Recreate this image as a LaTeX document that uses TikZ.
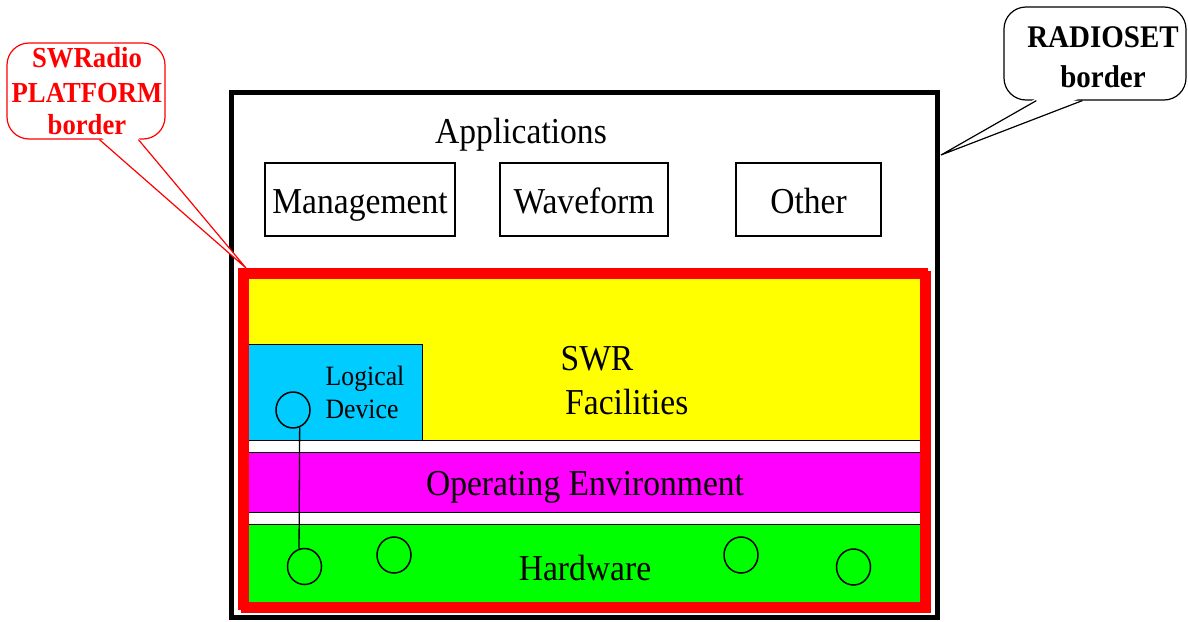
\documentclass[tikz,border=0pt]{standalone}
\usepackage{fontspec}
\setmainfont{Liberation Serif}[FakeStretch=0.92]
\usetikzlibrary{shapes.geometric,calc}
\definecolor{layyellow}{RGB}{255,255,0}
\definecolor{laymagenta}{RGB}{255,0,255}
\definecolor{laygreen}{RGB}{0,255,0}
\definecolor{laycyan}{RGB}{0,204,255}
\tikzset{
  big/.style={font=\fontsize{36.5}{42}\selectfont},
  small/.style={font=\fontsize{28}{34}\selectfont},
  lbl/.style={inner sep=0pt, anchor=base},
  appbox/.style={draw=black, line width=1.3pt, inner sep=0pt, minimum height=73pt,
                 text height=27pt, text depth=0pt, big},
  layer/.style={draw=black, line width=1pt},
  port/.style={ellipse, draw=black, line width=1.5pt, minimum width=34pt,
               minimum height=36pt, inner sep=0pt},
  callout/.style={line width=1.2pt, rounded corners=22pt, fill=white, inner sep=0pt},
  calltext/.style={lbl, font=\fontsize{29}{35}\selectfont\bfseries},
}
\begin{document}
\begin{tikzpicture}[x=1pt,y=-1pt]
\useasboundingbox (0,0) rectangle (1188,621);

% radio set frame
\draw[line width=5pt] (231,92) rectangle (937.5,617);

% application row
\node[lbl, big] (apps) at (521,143) {Applications};
\node[appbox, minimum width=190pt] (mgmt) at (360,199.5) {Management};
\node[appbox, minimum width=168pt] (wave) at (584,199.5) {Waveform};
\node[appbox, minimum width=145pt] (other) at (808.5,199.5) {Other};

% platform layers
\draw[layer, fill=layyellow] (243,276) rectangle (922,440);
\draw[layer, fill=laymagenta] (243,452) rectangle (922,512);
\draw[layer, fill=laygreen] (243,524) rectangle (922,606);
\draw[layer, fill=laycyan] (243,344) rectangle (422,440);

% platform border (with slight offset shadow)
\draw[red, line width=8pt] (245,275) rectangle (927,609);
\draw[red, line width=8pt] (242,272) rectangle (924,606);

% layer labels
\node[lbl, big] (swr) at (597,370) {SWR};
\node[lbl, big, anchor=base west] (fac) at (565,414) {Facilities};
\node[lbl, small] (logical) at (365,385) {Logical};
\node[lbl, small] (device) at (362,418) {Device};
\node[lbl, big] (openv) at (585,495) {Operating Environment};
\node[lbl, big] (hw) at (585,580) {Hardware};

% device ports
\node[port] (ldport) at (293,410) {};
\node[port] (hw1) at (304.5,566.5) {};
\node[port] (hw2) at (394,555) {};
\node[port] (hw3) at (741,555) {};
\node[port] (hw4) at (853.5,567) {};
\draw[line width=1.3pt] (ldport.-69) -- (hw1.107);

% platform callout
\node[callout, draw=red, minimum width=158pt, minimum height=96pt] (pcall) at (86,91) {};
\coordinate (ptip) at (246,268);
\fill[white] ($(pcall.south west)+(94,-3)$) -- (ptip) -- ($(pcall.south west)+(131,-3)$) -- cycle;
\draw[red, line width=1.2pt] ($(pcall.south west)+(93,0)$) -- (ptip) -- ($(pcall.south west)+(132,0)$);
\node[calltext, red] (pt1) at (87,67) {SWRadio};
\node[calltext, red] (pt2) at (87,102) {PLATFORM};
\node[calltext, red] (pt3) at (87,134) {border};

% radio set callout
\node[callout, draw=black, minimum width=182pt, minimum height=93pt] (rcall) at (1095,53.5) {};
\coordinate (rtip) at (941,155);
\fill[white] ($(rcall.south west)+(34,-3)$) -- (rtip) -- ($(rcall.south west)+(78,-3)$) -- cycle;
\draw[line width=1.2pt] ($(rcall.south west)+(33,0)$) -- (rtip) -- ($(rcall.south west)+(79,0)$);
\node[calltext, font=\fontsize{31.5}{37}\selectfont\bfseries] (rt1) at (1103,47) {RADIOSET};
\node[calltext, font=\fontsize{31.5}{37}\selectfont\bfseries] (rt2) at (1103,87) {border};
\end{tikzpicture}
\end{document}
